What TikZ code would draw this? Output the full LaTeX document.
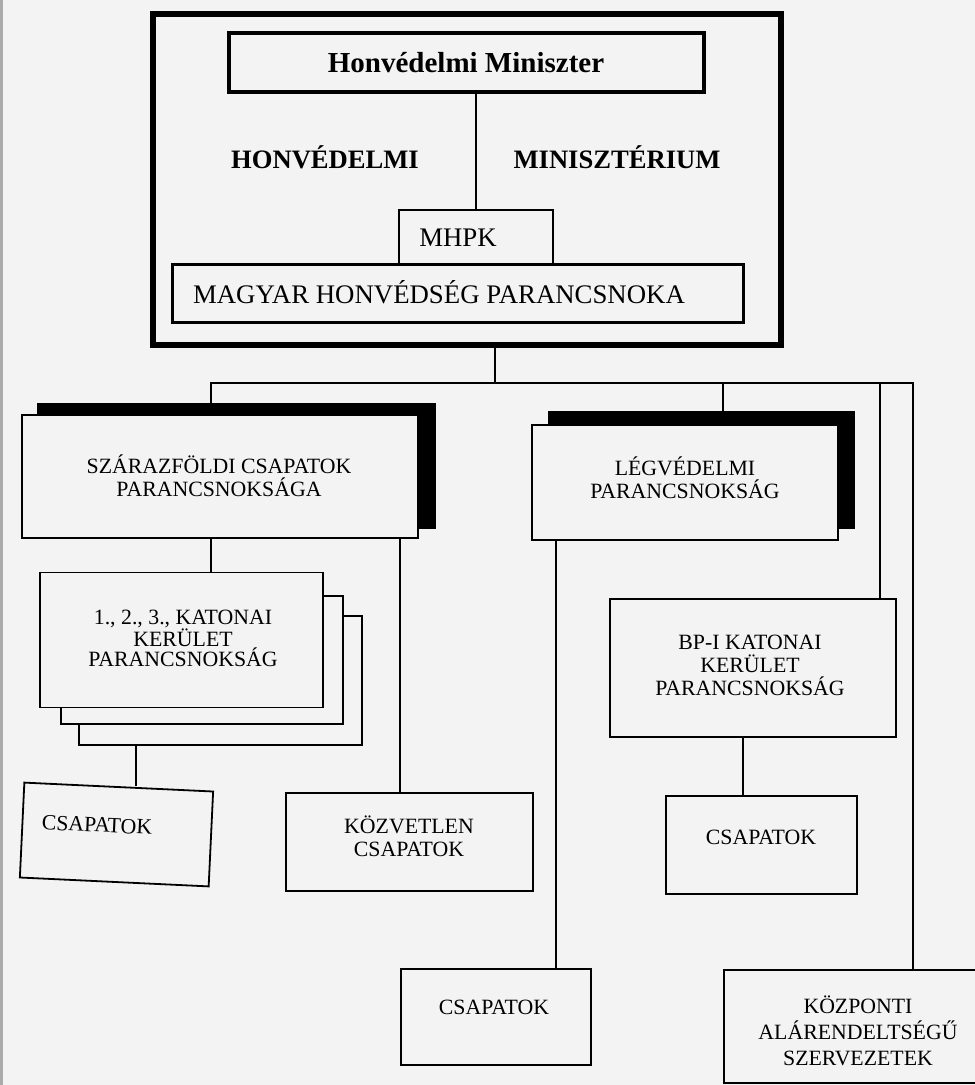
\documentclass[tikz,border=0pt]{standalone}
\usepackage{fontspec}
\setmainfont{Liberation Serif}
\usetikzlibrary{calc}
\definecolor{paper}{RGB}{243,243,243}
\definecolor{scanedge}{RGB}{170,170,170}
\begin{document}
\begin{tikzpicture}[x=1pt,y=-1pt,
  box/.style={draw=black, fill=paper, line width=1.8pt, rectangle, inner sep=0pt},
  shadowbox/.style={draw=black, fill=black, line width=1pt, rectangle, inner sep=0pt},
  txt/.style={font=\fontsize{21.8}{23}\selectfont, align=center, inner sep=0pt},
  bigtxt/.style={font=\fontsize{26.8}{28}\selectfont, inner sep=0pt},
  headtxt/.style={font=\fontsize{26.6}{28}\selectfont\bfseries, inner sep=0pt},
  conn/.style={draw=black, line width=1.4pt}]
\useasboundingbox (0,0) rectangle (975,1085);
\clip (0,0) rectangle (975,1085);
\fill[paper] (0,0) rectangle (975,1085);
\fill[scanedge] (0,0) rectangle (3,1085);

% ---------- top block ----------
\node[box, line width=5.5pt, minimum width=628pt, minimum height=331pt] (outer) at (467,179.5) {};
\node[box, line width=3.5pt, minimum width=475pt, minimum height=59pt] (hm) at (466.5,62.5) {};
\node[font=\fontsize{29}{31}\selectfont\bfseries, inner sep=0pt] (hmt) at (466,63) {Honvédelmi Miniszter};
\node[headtxt] (hvt) at (325,157) {HONVÉDELMI};
\node[headtxt] (mint) at (617,157) {MINISZTÉRIUM};
\node[box, line width=2.5pt, minimum width=154pt, minimum height=55pt] (mhpk) at (476,237.5) {};
\node[box, line width=3pt, minimum width=571pt, minimum height=58pt] (mag) at (457.5,293) {};
\node[bigtxt] (mhpkt) at (458,238) {MHPK};
\node[bigtxt] (magt) at (439,292) {MAGYAR HONVÉDSÉG PARANCSNOKA};
\draw[conn] (mhpk.north) -- (mhpk.north |- hm.south);

% ---------- bus ----------
\coordinate (j0) at (495,383);
\coordinate (busL) at (211,383);
\coordinate (busR) at (913,383);
\coordinate (jl) at (723,383);
\coordinate (jb) at (880,383);
\coordinate (cx2) at (400,0);
\coordinate (cx3) at (136,0);
\coordinate (cx4) at (556,0);
\coordinate (cx5) at (743,0);

% ---------- second level ----------
\node[shadowbox, minimum width=398pt, minimum height=125pt] (szs) at (236,465.5) {};
\node[box, minimum width=396pt, minimum height=123pt] (szf) at (220,476.5) {};
\node[txt] (szt) at (219,476) {SZÁRAZFÖLDI CSAPATOK\\PARANCSNOKSÁGA};

\node[shadowbox, minimum width=306pt, minimum height=117pt] (lgs) at (701,469.5) {};
\node[box, minimum width=306pt, minimum height=115pt] (lgf) at (685,482.5) {};
\node[txt] (lgt) at (685,478) {LÉGVÉDELMI\\PARANCSNOKSÁG};

% ---------- district commands ----------
\node[box, minimum width=283pt, minimum height=129pt] (kat3) at (220.5,680.5) {};
\node[box, minimum width=282pt, minimum height=128pt] (kat2) at (202,660) {};
\node[box, minimum width=283pt, minimum height=135pt] (kat1) at (181.5,640) {};
\node[txt, font=\fontsize{21.8}{20}\selectfont] (katt) at (183,638) {1., 2., 3., KATONAI\\KERÜLET\\PARANCSNOKSÁG};

\node[box, minimum width=286pt, minimum height=138pt] (bp) at (753,668) {};
\node[txt] (bpt) at (750,665) {BP-I KATONAI\\KERÜLET\\PARANCSNOKSÁG};

% ---------- units ----------
\node[box, rotate=-2.7, minimum width=189pt, minimum height=95pt] (lcs) at (116.5,834.5) {};
\node[txt, rotate=-2.7] (lct) at (97,825) {CSAPATOK};

\node[box, minimum width=247pt, minimum height=98pt] (kozv) at (409.5,842) {};
\node[txt] (kzt) at (409,836) {KÖZVETLEN\\CSAPATOK};

\node[box, minimum width=191pt, minimum height=98pt] (rcs) at (761.5,845) {};
\node[txt] (rct) at (761,837) {CSAPATOK};

\node[box, minimum width=190pt, minimum height=96pt] (bcs) at (496,1017) {};
\node[txt] (bct) at (494,1007) {CSAPATOK};

\node[box, minimum width=266pt, minimum height=113pt] (kozp) at (857,1026.5) {};
\node[txt, font=\fontsize{21.8}{26}\selectfont] (kpt) at (858,1031) {KÖZPONTI\\ALÁRENDELTSÉGŰ\\SZERVEZETEK};

% ---------- connectors ----------
\draw[conn] (j0 |- outer.south) -- (j0);
\draw[conn] (busL |- szs.north) -- (busL) -- (busR) -- (busR |- kozp.north);
\draw[conn] (jl) -- (jl |- lgs.north);
\draw[conn] (jb) -- (jb |- bp.north);
\draw[conn] (szf.south -| busL) -- (kat1.north -| busL);
\draw[conn] (szf.south -| cx2) -- (kozv.north -| cx2);
\draw[conn] (kat3.south -| cx3) -- (lcs.north -| cx3);
\draw[conn] (lgf.south -| cx4) -- (bcs.north -| cx4);
\draw[conn] (bp.south -| cx5) -- (rcs.north -| cx5);
\end{tikzpicture}
\end{document}
